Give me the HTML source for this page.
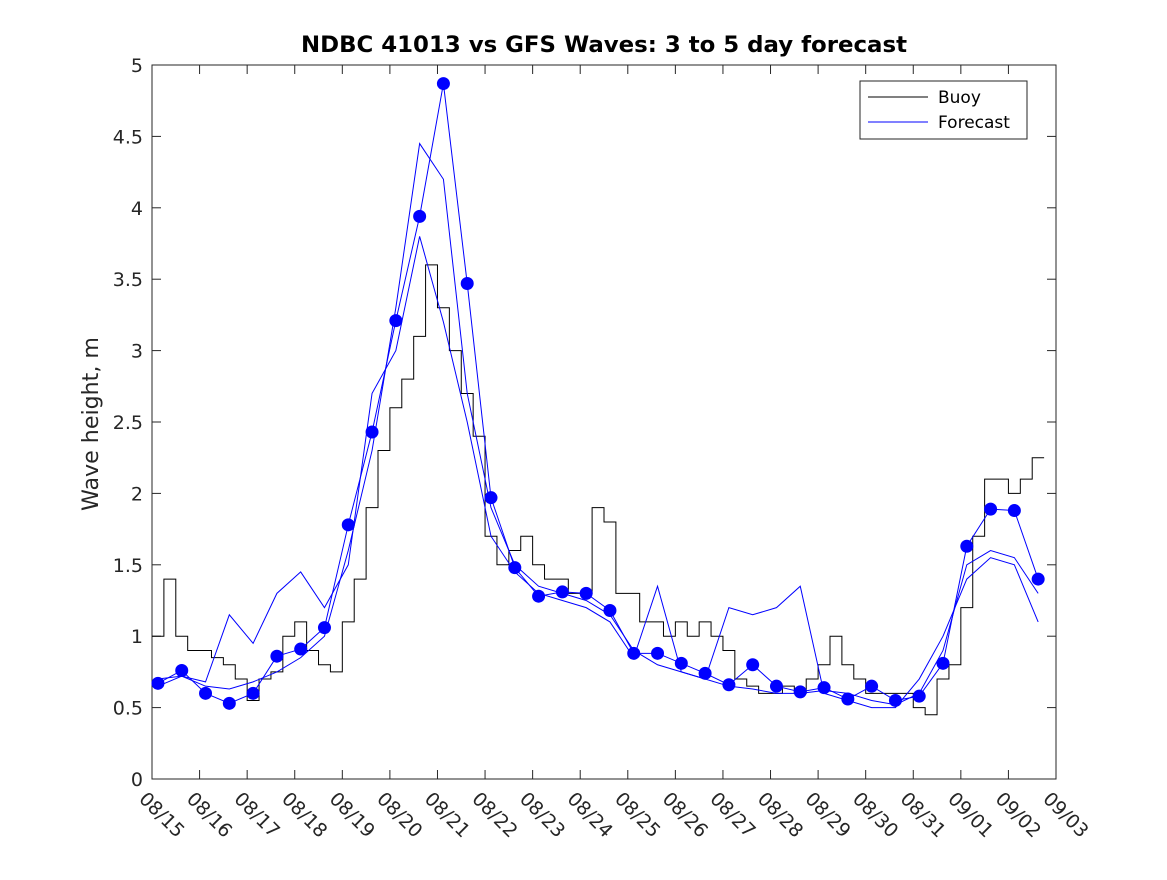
<!DOCTYPE html>
<html><head><meta charset="utf-8"><style>
body{margin:0;background:#fff;}
svg text{font-family:"DejaVu Sans","Liberation Sans",sans-serif;}
</style></head><body>
<svg id="chart" width="1167" height="875" xmlns="http://www.w3.org/2000/svg">
<rect width="1167" height="875" fill="#fff"/>
<g id="plot"></g>
</svg>
<script>
const dayLabels=["08/15","08/16","08/17","08/18","08/19","08/20","08/21","08/22","08/23","08/24","08/25","08/26","08/27","08/28","08/29","08/30","08/31","09/01","09/02","09/03"];
const yTicks=[0,0.5,1,1.5,2,2.5,3,3.5,4,4.5,5];
const yTickLabels=["0","0.5","1","1.5","2","2.5","3","3.5","4","4.5","5"];
// buoy, every 6 h from 08/15 00Z
const buoy=[1.0,1.4,1.0,0.9, 0.9,0.85,0.8,0.7, 0.55,0.7,0.75,1.0, 1.1,0.9,0.8,0.75,
 1.1,1.4,1.9,2.3, 2.6,2.8,3.1,3.6, 3.3,3.0,2.7,2.4, 1.7,1.5,1.6,1.7, 1.5,1.4,1.4,1.3, 1.3,1.9,1.8,1.3,
 1.3,1.1,1.1,1.0, 1.1,1.0,1.1,1.0, 0.9,0.7,0.65,0.6, 0.6,0.65,0.6,0.7, 0.8,1.0,0.8,0.7, 0.6,0.6,0.6,0.6,
 0.5,0.45,0.7,0.8, 1.2,1.7,2.1,2.1, 2.0,2.1,2.25];
// forecast dots every 12 h from 08/15 03Z
const dots=[0.67,0.76,0.60,0.53,0.60,0.86,0.91,1.06,1.78,2.43,3.21,3.94,4.87,3.47,1.97,1.48,1.28,1.31,1.30,1.18,0.88,0.88,0.81,0.74,0.66,0.80,0.65,0.61,0.64,0.56,0.65,0.55,0.58,0.81,1.63,1.89,1.88,1.40];
const fc2=[0.7,0.72,0.65,0.63,0.68,0.75,0.85,1.0,1.6,2.3,3.3,4.45,4.2,2.7,1.9,1.5,1.35,1.3,1.25,1.15,0.9,0.8,0.75,0.7,0.65,0.63,0.6,0.6,0.62,0.6,0.55,0.52,0.6,0.9,1.5,1.6,1.55,1.3];
const fc3=[0.65,0.72,0.68,1.15,0.95,1.3,1.45,1.2,1.5,2.7,3.0,3.8,3.2,2.5,1.7,1.45,1.3,1.25,1.2,1.1,0.85,1.35,0.75,0.7,1.2,1.15,1.2,1.35,0.6,0.55,0.5,0.5,0.7,1.0,1.4,1.55,1.5,1.1];
const X0=152,X1=1056,Y0=779,Y1=65;
const xs=d=>X0+(X1-X0)*d/19;
const ys=v=>Y0-(Y0-Y1)*v/5;
const NS="http://www.w3.org/2000/svg";
const g=document.getElementById('plot');
function mk(t,a,p){const e=document.createElementNS(NS,t);for(const k in a)e.setAttribute(k,a[k]);(p||g).appendChild(e);return e;}
const box=mk('rect',{x:X0,y:Y1,width:X1-X0,height:Y0-Y1,fill:'none',stroke:'#262626','stroke-width':1});


yTicks.forEach((v,i)=>{
 const y=ys(v);
 mk('line',{x1:X0,x2:X0+9,y1:y,y2:y,stroke:'#262626'});
 mk('line',{x1:X1,x2:X1-9,y1:y,y2:y,stroke:'#262626'});
 const t=mk('text',{x:X0-9,y:y+7,'text-anchor':'end','font-size':19,fill:'#262626'});
 t.textContent=yTickLabels[i];
 
 
});
dayLabels.forEach((l,i)=>{
 const x=xs(i);
 mk('line',{x1:x,x2:x,y1:Y0,y2:Y0-9,stroke:'#262626'});
 mk('line',{x1:x,x2:x,y1:Y1,y2:Y1+9,stroke:'#262626'});
 const t=mk('text',{x:x-14,y:Y0+21,'font-size':19,fill:'#262626',transform:`rotate(45 ${x-14} ${Y0+21})`});
 t.textContent=l;
 
 
});
const tt=mk('text',{x:604,y:52,'text-anchor':'middle','font-size':22,'font-weight':'bold',fill:'#000',textLength:606,lengthAdjust:'spacingAndGlyphs'});
tt.textContent='NDBC 41013 vs GFS Waves: 3 to 5 day forecast';


const yl=mk('text',{x:98,y:424,'text-anchor':'middle','font-size':22,fill:'#262626',transform:'rotate(-90 98 424)',textLength:174,lengthAdjust:'spacingAndGlyphs'});
yl.textContent='Wave height, m';


let d='';
buoy.forEach((v,i)=>{const x=xs(i*0.25),y=ys(v);d+=(i?`H${x}V${y}`:`M${x} ${y}`);});
d+=`H${xs(buoy.length*0.25)}`;
const bl=mk('path',{d:d,fill:'none',stroke:'#000','stroke-width':1});


function fline(arr,name){
 const p=arr.map((v,i)=>(i?'L':'M')+xs(0.125+i*0.5)+' '+ys(v)).join('');
 const e=mk('path',{d:p,fill:'none',stroke:'#0000ff','stroke-width':1});
 
 
}
fline(dots,'forecast-line-1');fline(fc2,'forecast-line-2');fline(fc3,'forecast-line-3');
dots.forEach((v,i)=>{
 const c=mk('circle',{cx:xs(0.125+i*0.5),cy:ys(v),r:6.5,fill:'#0000ff'});
 
 
});
const lg=mk('g',{});


mk('rect',{x:860,y:81,width:167,height:58,fill:'#fff',stroke:'#262626'},lg);
mk('line',{x1:868,x2:928,y1:97,y2:97,stroke:'#000'},lg);
mk('line',{x1:868,x2:928,y1:122,y2:122,stroke:'#0000ff'},lg);
const l1=mk('text',{x:938,y:103,'font-size':17,fill:'#000'},lg);l1.textContent='Buoy';


const l2=mk('text',{x:938,y:128,'font-size':17,fill:'#000'},lg);l2.textContent='Forecast';


</script>
</body></html>
